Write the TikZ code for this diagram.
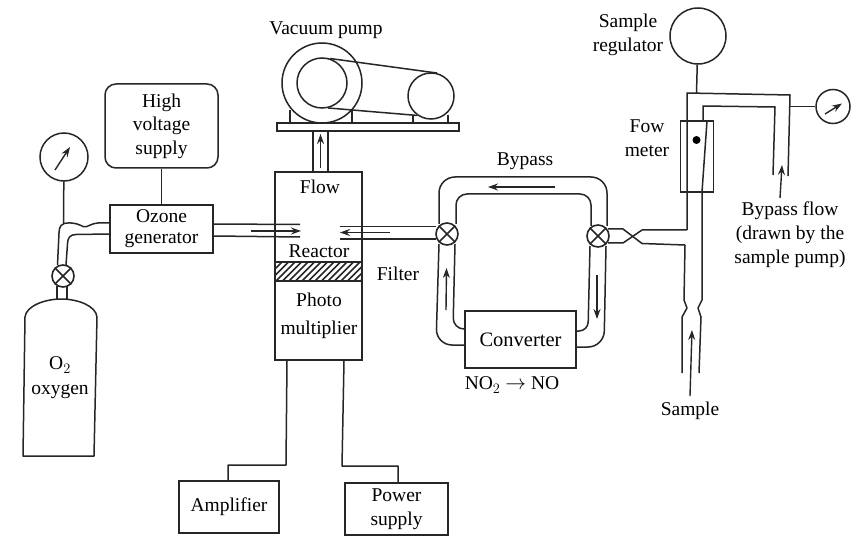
\documentclass[tikz,border=0pt]{standalone}
\usepackage{fontspec}
\setmainfont{Liberation Serif}
\usetikzlibrary{arrows.meta}
\tikzset{
 ln/.style={line width=1.5pt,black!85,line join=round},
 box/.style={draw,line width=1.5pt,black!85,inner sep=0pt,align=center,font=\fontsize{19.5}{21}\selectfont,text=black},
 lbl/.style={inner sep=0pt,align=center,font=\fontsize{19.5}{24}\selectfont,text=black},
 flow/.style={line width=1.4pt,black!85,-{Stealth[length=10pt,width=7pt]}},
 valve/.style={circle,draw,line width=1.6pt,black!85,minimum size=22pt,inner sep=0pt,fill=white},
 dial/.style={circle,draw,line width=1.5pt,black!85,inner sep=0pt},
}
\newcommand{\valvex}[1]{\draw[ln] (#1.45)--(#1.225) (#1.135)--(#1.315);}
\begin{document}
\begin{tikzpicture}[x=1pt,y=-1pt]
\useasboundingbox (0,0) rectangle (859,537);
\fill[white] (0,0) rectangle (859,537);
% --- left side
\node[box,rounded corners=11pt,minimum width=113pt,minimum height=84pt,font=\fontsize{19.5}{23.5}\selectfont] (hv) at (161.5,126) {High\\voltage\\supply};
\node[box,minimum width=103pt,minimum height=48pt] (ozone) at (161.5,229) {Ozone\\generator};
\draw[ln] (hv) -- (ozone);
\node[dial,minimum size=48pt] (gaugeL) at (64,157) {};
\draw[flow] (55,170) -- (70,147);
\coordinate (tee) at (63.5,223);
\draw[ln] (gaugeL) -- (tee);
\draw[ln,rounded corners=2pt] ([yshift=6pt]ozone.west) -- (96,223) -- (90,225) -- (85,227.5) -- (79,224.5) -- (73,223) -- (68,223);
\draw[ln] (68,223) .. controls (61,223) and (59,227) .. (59,233) -- (57.5,265);
\draw[ln] ([yshift=-5pt]ozone.west) -- (76,234.5) .. controls (70,234.5) and (67.5,238) .. (67.5,244) -- (66,265);
\draw[ln] (57,286) -- (57,300) (67,286) -- (67,300);
\node[valve] (valveO) at (63,276) {};
\valvex{valveO}
% oxygen cylinder
\draw[ln] (25,317) .. controls (26,306) and (45,299) .. (61,299) .. controls (78,299) and (96,306) .. (97,317) -- (94,456) -- (23,456) -- cycle;
\node[lbl] (otwo) at (60,365) {O$_{2}$};
\node[lbl] (oxy) at (60,392) {oxygen};
% --- reactor
\node[box,minimum width=87pt,minimum height=188pt] (reactor) at (318.5,266) {};
\begin{scope}
\clip (275.5,262) rectangle (361.5,281);
\foreach \x in {262,268.5,...,370} \draw[line width=1.5pt,black!85] (\x,282) -- (\x+21,261);
\end{scope}
\node[draw,line width=1.5pt,black!85,minimum width=87pt,minimum height=19pt,inner sep=0pt] (filterband) at (318.5,271.5) {};
\node[lbl] (lflow) at (320,187) {Flow};
\node[lbl] (lreact) at (319,251.5) {Reactor};
\node[lbl] (lfilter) at (398,274) {Filter};
\node[lbl,font=\fontsize{19.5}{28}\selectfont] (lphoto) at (319,316) {Photo\\multiplier};
% pipes into reactor
\draw[ln] ([yshift=5pt]ozone.east) -- (300,224.5);
\draw[ln] ([yshift=-7pt]ozone.east) -- (300,237);
\draw[flow] (251,231) -- (301,231);
\draw[ln] (340,226.5) -- (436,226.5) (340,239) -- (436,239);
\draw[flow] (390,232.5) -- (340,232.5);
% --- pump
\node[dial,minimum size=80pt] (pumpO) at (322,83) {};
\node[dial,minimum size=50pt] (pumpI) at (322,83) {};
\node[dial,minimum size=46pt] (pumpS) at (431,96) {};
\node[box,minimum width=182pt,minimum height=8pt] (plate) at (368,127) {};
\draw[ln] (pumpI.72) -- (pumpS.75);
\draw[ln] (pumpI.284) -- (pumpS.235);
\draw[ln] (290,110) -- (290,123) (352,110) -- (352,123) (413,115) -- (413,123) (448,115) -- (448,123);
\draw[ln] (313,0 |- plate.south) -- (313,0 |- reactor.north);
\draw[ln] (328,0 |- plate.south) -- (328,0 |- reactor.north);
\draw[flow] (320.5,168) -- (320.5,134);
\node[lbl] (lvac) at (326,30) {Vacuum pump};
% --- amplifier, power supply
\node[box,minimum width=100pt,minimum height=52pt] (amp) at (229,507) {Amplifier};
\node[box,minimum width=103pt,minimum height=52pt,font=\fontsize{19.5}{23.5}\selectfont] (power) at (396.5,509) {Power\\supply};
\draw[ln] (287,0 |- reactor.south) -- (286,465) -- (228,465) -- (228,0 |- amp.north);
\draw[ln] (344,0 |- reactor.south) -- (342,466) -- (398,466) -- (398,0 |- power.north);
% --- bypass loop
\node[box,minimum width=111pt,minimum height=57pt,font=\fontsize{20.5}{21}\selectfont] (conv) at (520.5,339.5) {Converter};
\draw[ln,rounded corners=16pt] (439,224) -- (439,177) -- (607,177) -- (607,226);
\draw[ln,rounded corners=11pt] (456,224) -- (456,194) -- (591,194) -- (591,226);
\draw[ln,rounded corners=16pt] (439,244) -- (436,345) -- (conv.west |- 0,345);
\draw[ln,rounded corners=11pt] (455,244) -- (453,329) -- (conv.west |- 0,329);
\draw[ln,rounded corners=16pt] (606,246) -- (604,347) -- (conv.east |- 0,347);
\draw[ln,rounded corners=9pt] (590,246) -- (588,331) -- (conv.east |- 0,331);
\node[valve] (valveA) at (447,234) {};
\valvex{valveA}
\node[valve] (valveB) at (598,236) {};
\valvex{valveB}
\draw[flow] (555,187) -- (488,187);
\draw[flow] (446,310) -- (446.5,268);
\draw[flow] (597,275) -- (597,319);
\node[lbl] (lby) at (525,161) {Bypass};
\node[lbl] (lno) at (512,385) {NO$_{2}$ $\rightarrow$ NO};
% crossing
\draw[ln] (608,229) -- (623,229) -- (642,243.5) -- (685,245);
\draw[ln] (608,243) -- (623,243) -- (642,230) -- (687,230);
% --- sample line
\node[dial,minimum size=56pt] (reg) at (698,36) {};
\coordinate (regtee) at (696.5,93);
\draw[ln] (reg) -- (regtee);
\node[box,minimum width=33pt,minimum height=71pt] (meter) at (697,156.5) {};
\draw[ln] (687,230) -- (687,93) -- (790,95) -- (788,176);
\draw[ln] (773,175) -- (775,107) -- (703,106) -- (703,121) -- (707,121) -- (702,192) -- (702,300) -- (698,308) -- (701,317) -- (699,373);
\draw[ln] (685,245) -- (684,300) -- (687,308) -- (682,317) -- (682,373);
\fill[black] (696.5,140) circle (4pt);
\node[dial,minimum size=34pt] (gaugeR) at (833,106.5) {};
\draw[ln] (789.5,106.5) -- (gaugeR);
\draw[flow] (825,114) -- (842,103.5);
\draw[flow] (780,198) -- (782,165);
\draw[flow] (690,396) -- (692,330);
\node[lbl] (lsr) at (628,35) {Sample\\regulator};
\node[lbl] (lfm) at (647,138) {Fow\\meter};
\node[lbl] (lbf) at (790,235) {Bypass flow\\(drawn by the\\sample pump)};
\node[lbl] (lsam) at (690,411) {Sample};
\end{tikzpicture}
\end{document}
